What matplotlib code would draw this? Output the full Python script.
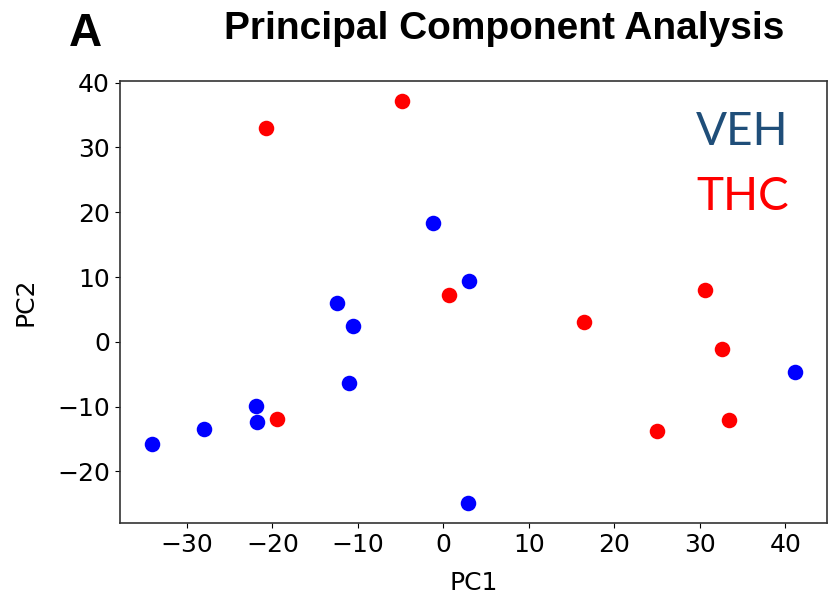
import matplotlib.pyplot as plt

# PCA scores
veh_pc1 = [-34.1, -28.0, -21.9, -21.8, -12.4, -11.0, -10.6, -1.2, 3.0, 2.9, 41.1]
veh_pc2 = [-15.7, -13.5, -9.9, -12.3, 6.0, -6.4, 2.4, 18.4, 9.4, -24.9, -4.7]
thc_pc1 = [-20.7, -4.8, 0.7, -19.5, 16.4, 30.6, 32.6, 33.4, 25.0]
thc_pc2 = [33.0, 37.2, 7.2, -11.9, 3.1, 8.0, -1.1, -12.0, -13.7]

fig = plt.figure(figsize=(8.36, 6.02), dpi=100)
ax = fig.add_axes([0.1432, 0.1307, 0.8458, 0.7353])

ax.scatter(veh_pc1, veh_pc2, s=125, color='blue', linewidths=0)
ax.scatter(thc_pc1, thc_pc2, s=125, color='red', linewidths=0)

ax.set_xticks([-30, -20, -10, 0, 10, 20, 30, 40])
ax.set_yticks([-20, -10, 0, 10, 20, 30, 40])
ax.tick_params(labelsize=18)
ax.set_xlabel("PC1", fontsize=18, labelpad=10)
ax.set_ylabel("PC2", fontsize=18, labelpad=14)
for sp in ax.spines.values():
    sp.set_color('#333333')
    sp.set_linewidth(1.2)

fig.text(69 / 836, 1 - 46.5 / 602, "A", fontsize=33, fontweight='bold',
         family='Liberation Sans', ha='left', va='baseline')
fig.text(504 / 836, 1 - 39 / 602, "Principal Component Analysis", fontsize=28,
         fontweight='bold', family='Liberation Sans', ha='center', va='baseline')

fig.text(696 / 836, 1 - 145 / 602, "VEH", fontsize=33, family='Lato',
         color='#1f4e79', ha='left', va='baseline')
fig.text(696 / 836, 1 - 210 / 602, "THC", fontsize=33, family='Lato',
         color='#ff0000', ha='left', va='baseline')

fig.savefig("out.png", dpi=100)
